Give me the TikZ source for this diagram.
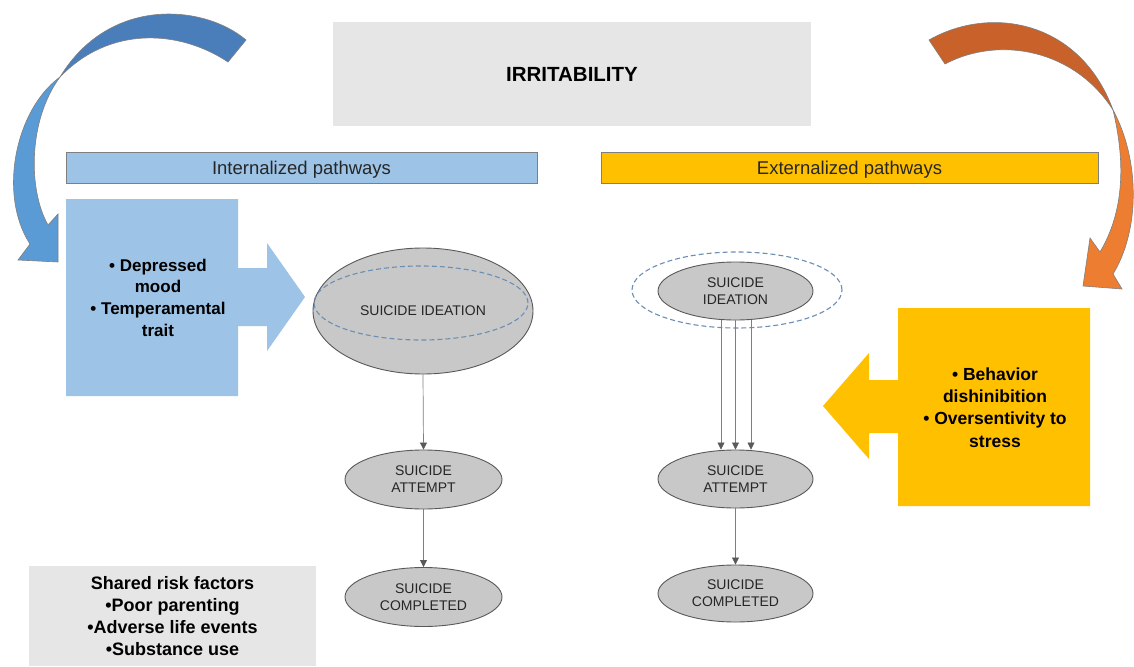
\documentclass[tikz,border=0pt]{standalone}
\usepackage{fontspec}
\setmainfont{Liberation Sans}
\usetikzlibrary{arrows.meta,shapes.geometric}
\definecolor{lblue}{HTML}{9DC3E6}
\definecolor{gold}{HTML}{FFC000}
\definecolor{boxgray}{HTML}{E7E6E6}
\definecolor{ellgray}{HTML}{C8C8C8}
\definecolor{ellline}{HTML}{595959}
\definecolor{dashblue}{HTML}{6C8EB5}
\definecolor{bluedark}{HTML}{4A7EBB}
\definecolor{bluelight}{HTML}{5B9BD5}
\definecolor{orgdark}{HTML}{C8622A}
\definecolor{orglight}{HTML}{ED7D31}
\definecolor{txt}{HTML}{262626}
\definecolor{edgegray}{HTML}{7F7F7F}
\begin{document}
\begin{tikzpicture}[x=1pt,y=-1pt,
  stage/.style={ellipse, draw=ellline, fill=ellgray, line width=0.9pt, inner sep=0pt, align=center, text=txt, font=\fontsize{14}{17}\selectfont},
  halo/.style={ellipse, draw=dashblue, dash pattern=on 5pt off 3pt, line width=1.1pt, inner sep=0pt},
  flow/.style={draw=edgegray, line width=0.7pt, -{Triangle[length=7pt,width=7pt,color=ellline]}},
  band/.style={draw=edgegray, line width=0.6pt},
  bar/.style={draw=edgegray, line width=0.8pt, inner sep=0pt, text depth=0pt, font=\fontsize{18.5}{22}\selectfont, text=txt},
  boldtext/.style={font=\bfseries\fontsize{17}{21.7}\selectfont, align=center, text=black}
]
\useasboundingbox (0,0) rectangle (1134,666);
\fill[white] (0,0) rectangle (1134,666);

% top box
\node[fill=boxgray, minimum width=478pt, minimum height=104pt, inner sep=0pt,
      font=\bfseries\fontsize{20.5}{24}\selectfont, text=black] (irr) at (572,74) {IRRITABILITY};

% pathway bars
\node[bar, fill=lblue, minimum width=471pt, minimum height=31pt] (ib) at (301.5,168) {Internalized pathways};
\node[bar, fill=gold, minimum width=497pt, minimum height=31pt] (eb) at (849.5,168) {Externalized pathways};

% blue curved arrow
\filldraw[band, fill=bluedark] (246,40) .. controls (205,5) and (110,-5) .. (60,77)
   .. controls (110,25) and (180,30) .. (228,62) -- cycle;
\filldraw[band, fill=bluelight] (60,77) .. controls (15,110) and (-2,195) .. (30,244)
   -- (18,260) -- (58,262) -- (58,214) -- (48,225) .. controls (28,190) and (28,120) .. (60,77) -- cycle;

% orange curved arrow
\filldraw[band, fill=orgdark] (929,40) .. controls (990,5) and (1080,20) .. (1113,110)
   .. controls (1075,50) and (1000,35) .. (945,64) -- cycle;
\filldraw[band, fill=orglight] (1113,110) .. controls (1140,160) and (1140,230) .. (1113,274)
   -- (1122,289) -- (1083,286) -- (1090,238) -- (1100,252) .. controls (1125,210) and (1125,160) .. (1113,110) -- cycle;

% left callout
\fill[lblue] (66,199) -- (238,199) -- (238,268) -- (267,268) -- (267,243) -- (305,297)
   -- (267,351) -- (267,326) -- (238,326) -- (238,396) -- (66,396) -- cycle;
\node[boldtext] (lt) at (158,297.5) {• Depressed\\mood\\• Temperamental\\trait};

% right callout
\fill[gold] (1090,308) -- (1090,506) -- (898,506) -- (898,433) -- (869,433) -- (869,459)
   -- (823,406) -- (869,353) -- (869,380) -- (898,380) -- (898,308) -- cycle;
\node[boldtext, font=\bfseries\fontsize{17.5}{22.3}\selectfont] (rt) at (995,407.5) {• Behavior\\dishinibition\\• Oversentivity to\\stress};

% shared risk factors
\node[fill=boxgray, minimum width=287pt, minimum height=100pt, inner sep=0pt,
      font=\bfseries\fontsize{18}{22}\selectfont, align=center, text=black] (srf) at (172.5,616)
      {Shared risk factors\\•Poor parenting\\•Adverse life events\\•Substance use};

% left pathway
\node[stage, minimum width=220pt, minimum height=126pt] (li) at (423,311) {SUICIDE IDEATION};
\node[halo, minimum width=214pt, minimum height=74pt] (lh) at (421,303) {};
\node[stage, minimum width=157pt, minimum height=59pt] (la) at (423.5,479.5) {SUICIDE\\ATTEMPT};
\node[stage, minimum width=157pt, minimum height=59pt] (lc) at (423.5,597) {SUICIDE\\COMPLETED};
\draw[flow] (li.south) -- (la.north);
\draw[flow] (la.south) -- (lc.north);

% right pathway
\node[halo, minimum width=210pt, minimum height=76pt] (rh) at (737,290) {};
\node[stage, minimum width=155pt, minimum height=58pt] (ri) at (735.5,291) {SUICIDE\\IDEATION};
\node[stage, minimum width=155pt, minimum height=58pt] (ra) at (735.5,479) {SUICIDE\\ATTEMPT};
\node[stage, minimum width=155pt, minimum height=57pt] (rc) at (735.5,593.5) {SUICIDE\\COMPLETED};
\draw[flow] ([xshift=-14.5pt]ri.south) -- ([xshift=-14.5pt]ra.north);
\draw[flow] (ri.south) -- (ra.north);
\draw[flow] ([xshift=15.5pt]ri.south) -- ([xshift=15.5pt]ra.north);
\draw[flow] (ra.south) -- (rc.north);
\end{tikzpicture}
\end{document}
